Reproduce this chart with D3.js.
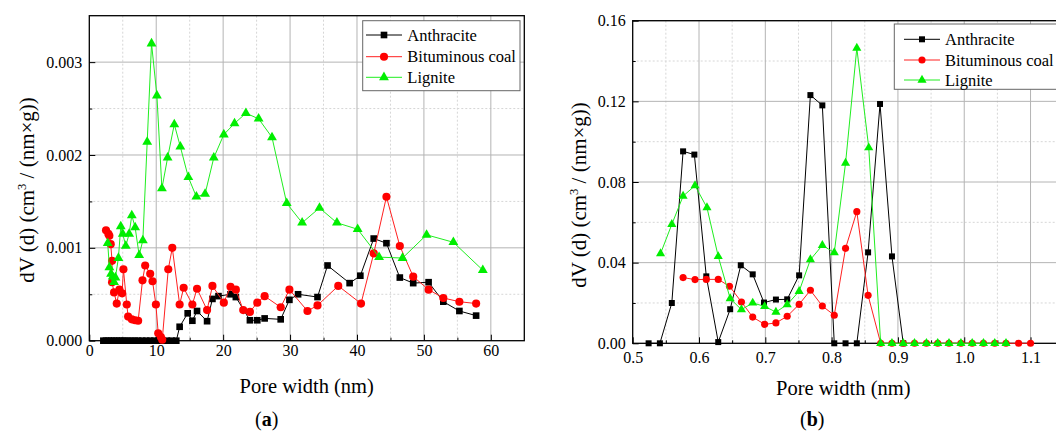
<!DOCTYPE html>
<meta charset="utf-8">
<script src="https://d3js.org/d3.v7.min.js"></script>
<style>
  body { margin: 0; background: #fff; }
  svg text { font-family: "Liberation Serif", "Times New Roman", Times, "DejaVu Serif", serif !important; }
</style>
<div id="chart"></div>
<script>

// ---- data, panel (a) : pore width 0-60 nm ----
var aAnthX = [2.1, 2.5, 2.9, 3.3, 3.7, 4.1, 4.5, 4.9, 5.3, 5.8, 6.3, 6.8, 7.3, 7.9, 8.5, 9.1, 9.7, 10.3, 10.9, 11.6, 12.3, 13.0,
              13.5, 14.7, 15.4, 16.1, 17.6, 18.4, 19.3, 21.1, 21.9, 24.0, 25.1, 26.2, 28.6, 29.9, 31.2, 34.1, 35.6, 38.9,
              40.5, 42.5, 44.4, 46.4, 48.4, 50.7, 52.9, 55.3, 57.8];
var aAnthY = [0, 0, 0, 0, 0, 0, 0, 0, 0, 0, 0, 0, 0, 0, 0, 0, 0, 0, 0, 0, 0, 0,
              0.00015, 0.000295, 0.000215, 0.00032, 0.00021, 0.00045, 0.00048, 0.0005, 0.00047, 0.00022, 0.00022, 0.00024,
              0.00023, 0.00044, 0.0005, 0.00047, 0.00081, 0.00062, 0.0007, 0.0011, 0.00105, 0.00068, 0.00062, 0.00063,
              0.00042, 0.00032, 0.00027];

var aBitX = [2.5, 2.85, 3.0, 3.2, 3.4, 3.4, 3.7, 4.1, 4.5, 4.9, 5.1, 5.6, 5.8, 6.35, 6.85, 7.3, 7.95, 8.35, 9.1, 9.45, 9.95,
             10.3, 10.7, 10.9, 11.8, 12.4, 13.5, 14.1, 15.4, 16.1, 17.6, 18.4, 20.1, 21.1, 21.9, 23.0, 24.0, 25.1, 26.2,
             28.6, 29.9, 32.6, 34.1, 37.2, 40.6, 42.5, 44.4, 46.4, 48.4, 50.7, 52.9, 55.3, 57.8];
var aBitY = [0.00119, 0.00115, 0.00113, 0.00104, 0.00086, 0.00063, 0.00052, 0.0004, 0.00055, 0.00051, 0.00077, 0.00039,
             0.00026, 0.00023, 0.00022, 0.000215, 0.00065, 0.00081, 0.00072, 0.00064, 0.00039, 0.00008, 0.00004, 0.00001,
             0.00077, 0.001, 0.00039, 0.00057, 0.00039, 0.00056, 0.00033, 0.00059, 0.00041, 0.00058, 0.00055, 0.00033,
             0.00031, 0.00041, 0.00048, 0.00036, 0.00055, 0.00032, 0.00038, 0.00059, 0.0004, 0.00094, 0.00155, 0.00102,
             0.00069, 0.00055, 0.00046, 0.00042, 0.0004];

var aLigX = [2.75, 3.0, 3.25, 3.5, 3.7, 3.9, 4.35, 4.7, 5.0, 5.45, 5.95, 6.35, 6.85, 7.45, 8.0, 8.65, 9.3, 10.1, 10.85,
             11.7, 12.7, 13.6, 14.8, 16.0, 17.3, 18.6, 20.1, 21.7, 23.4, 25.3, 27.3, 29.5, 31.8, 34.4, 37.0, 40.1, 43.3,
             46.8, 50.4, 54.4, 58.8];
var aLigY = [0.00105, 0.00079, 0.00072, 0.00069, 0.00063, 0.00068, 0.00089, 0.00123, 0.00115, 0.00102, 0.00115, 0.00135,
             0.00122, 0.00092, 0.00108, 0.00214, 0.0032, 0.00264, 0.00164, 0.00197, 0.00233, 0.00209, 0.00176, 0.00155,
             0.00158, 0.00197, 0.00222, 0.00234, 0.00245, 0.00239, 0.00219, 0.00148, 0.00127, 0.00143, 0.00127, 0.0012,
             0.0009, 0.00089, 0.00114, 0.00106, 0.00076];

// ---- data, panel (b) : pore width 0.5-1.1 nm ----
var bAnthX = [0.524, 0.541, 0.559, 0.576, 0.593, 0.611, 0.629, 0.647, 0.663, 0.681, 0.698, 0.716, 0.733, 0.751, 0.768,
              0.786, 0.804, 0.821, 0.838, 0.855, 0.873, 0.891, 0.908];
var bAnthY = [0, 0, 0.02, 0.0952, 0.0936, 0.0332, 0.0006, 0.0169, 0.0387, 0.0342, 0.0202, 0.0217, 0.0218, 0.0337, 0.1231,
              0.118, 0, 0, 0, 0.0451, 0.1187, 0.0431, 0];

var bBitX = [0.576, 0.594, 0.611, 0.629, 0.646, 0.664, 0.681, 0.699, 0.716, 0.733, 0.751, 0.768, 0.786, 0.804, 0.821,
             0.838, 0.855, 0.874, 0.891, 0.908, 0.925, 0.943, 0.960, 0.977, 0.995, 1.012, 1.029, 1.046, 1.063, 1.082, 1.100];
var bBitY = [0.0326, 0.0316, 0.0317, 0.0317, 0.0283, 0.0205, 0.013, 0.0094, 0.0101, 0.0134, 0.0193, 0.0263, 0.0185,
             0.0139, 0.0471, 0.0653, 0.0238, 0, 0, 0, 0, 0, 0, 0, 0, 0, 0, 0, 0, 0, 0];

var bLigX = [0.542, 0.559, 0.576, 0.594, 0.612, 0.629, 0.647, 0.664, 0.681, 0.699, 0.716, 0.733, 0.751, 0.768, 0.786,
             0.804, 0.821, 0.838, 0.856, 0.874, 0.891, 0.908, 0.925, 0.943, 0.960, 0.977, 0.995, 1.012, 1.029, 1.046, 1.063];
var bLigY = [0.0445, 0.059, 0.073, 0.0782, 0.0673, 0.0431, 0.0222, 0.0167, 0.02, 0.0183, 0.0155, 0.0192, 0.0258, 0.0415,
             0.0486, 0.045, 0.0894, 0.1464, 0.097, 0, 0, 0, 0, 0, 0, 0, 0, 0, 0, 0, 0];

var seriesNames = ["Anthracite", "Bituminous coal", "Lignite"];
var aTicksX = [0, 10, 20, 30, 40, 50, 60];
var aTicksY = [0, 0.001, 0.002, 0.003];
var bTicksX = [0.5, 0.6, 0.7, 0.8, 0.9, 1.0, 1.1];
var bTicksY = [0, 0.04, 0.08, 0.12, 0.16];

var colors = ["#000000", "#ff0000", "#00ee00"];
var lineColors = ["#000000", "#ff2020", "#20ee20"];
var shapes = [d3.symbolSquare, d3.symbolCircle, d3.symbolTriangle];
var serif = "'Liberation Serif', 'Times New Roman', Times, 'DejaVu Serif', serif";

function zip(xs, ys) { return xs.map(function(x, i) { return {x: x, y: ys[i]}; }); }

var svg = d3.select("#chart").append("svg")
    .attr("width", 1056)
    .attr("height", 432)
    .attr("font-family", serif);

function drawPanel(p) {
  var x = d3.scaleLinear().domain(p.xDomain).range([p.left, p.right]);
  var y = d3.scaleLinear().domain(p.yDomain).range([p.bottom, p.top]);
  var g = svg.append("g");

  // minor grid (dotted) and major grid
  var xMinor = p.xTicks.slice(0, -1).map(function(t, i) { return (t + p.xTicks[i + 1]) / 2; });
  xMinor.push(p.xTicks[p.xTicks.length - 1] + (p.xTicks[1] - p.xTicks[0]) / 2);
  var yMinor = p.yTicks.slice(0, -1).map(function(t, i) { return (t + p.yTicks[i + 1]) / 2; });
  xMinor = xMinor.filter(function(t) { return t < p.xDomain[1]; });

  g.selectAll(".gx-minor").data(xMinor).enter().append("line")
    .attr("x1", function(d) { return x(d); }).attr("x2", function(d) { return x(d); })
    .attr("y1", p.top).attr("y2", p.bottom)
    .attr("stroke", "#d6d6d6").attr("stroke-dasharray", "2,2");
  g.selectAll(".gy-minor").data(yMinor).enter().append("line")
    .attr("y1", function(d) { return y(d); }).attr("y2", function(d) { return y(d); })
    .attr("x1", p.left).attr("x2", p.right)
    .attr("stroke", "#d6d6d6").attr("stroke-dasharray", "2,2");
  g.selectAll(".gx").data(p.xTicks.slice(1)).enter().append("line")
    .attr("x1", function(d) { return x(d); }).attr("x2", function(d) { return x(d); })
    .attr("y1", p.top).attr("y2", p.bottom)
    .attr("stroke", "#b4b4b4");
  g.selectAll(".gy").data(p.yTicks.slice(1)).enter().append("line")
    .attr("y1", function(d) { return y(d); }).attr("y2", function(d) { return y(d); })
    .attr("x1", p.left).attr("x2", p.right)
    .attr("stroke", "#b4b4b4");

  // axes, ticks pointing inward
  g.append("g").attr("transform", "translate(0," + p.bottom + ")")
    .call(d3.axisBottom(x).tickValues(p.xTicks).tickFormat(d3.format(p.xFmt)).tickSize(-6).tickPadding(p.xPad));
  g.append("g").attr("transform", "translate(0," + p.bottom + ")")
    .call(d3.axisBottom(x).tickValues(xMinor).tickFormat("").tickSize(-3));
  g.append("g").attr("transform", "translate(" + p.left + ",0)")
    .call(d3.axisLeft(y).tickValues(p.yTicks).tickFormat(d3.format(p.yFmt)).tickSize(-6).tickPadding(7));
  g.append("g").attr("transform", "translate(" + p.left + ",0)")
    .call(d3.axisLeft(y).tickValues(yMinor).tickFormat("").tickSize(-3));
  g.selectAll(".domain").remove();
  g.selectAll("g").attr("font-family", serif);
  g.selectAll(".tick line").attr("stroke", "#000");
  g.selectAll(".tick text").attr("font-size", 16).attr("fill", "#000");

  // frame
  g.append("rect")
    .attr("x", p.left).attr("y", p.top)
    .attr("width", p.right - p.left).attr("height", p.bottom - p.top)
    .attr("fill", "none").attr("stroke", "#000").attr("stroke-width", 1.3);

  // series
  p.series.forEach(function(s, i) {
    var pts = zip(s[0], s[1]);
    g.append("path").datum(pts)
      .attr("fill", "none").attr("stroke", lineColors[i]).attr("stroke-width", 1)
      .attr("d", d3.line().x(function(d) { return x(d.x); }).y(function(d) { return y(d.y); }));
    g.selectAll(".m" + i).data(pts).enter().append("path")
      .attr("transform", function(d) { return "translate(" + x(d.x) + "," + y(d.y) + ")"; })
      .attr("d", d3.symbol().type(shapes[i]).size(p.sizes[i]))
      .attr("fill", colors[i]);
  });

  // legend
  var lg = g.append("g");
  lg.append("rect")
    .attr("x", p.legend.x0).attr("y", p.legend.y0)
    .attr("width", p.legend.x1 - p.legend.x0).attr("height", p.legend.y1 - p.legend.y0)
    .attr("fill", "#fff").attr("stroke", "#666").attr("stroke-width", 1);
  seriesNames.forEach(function(name, i) {
    var ly = p.legend.rows[i];
    lg.append("line")
      .attr("x1", p.legend.lx0).attr("x2", p.legend.lx1)
      .attr("y1", ly).attr("y2", ly)
      .attr("stroke", lineColors[i]).attr("stroke-width", 1);
    lg.append("path")
      .attr("transform", "translate(" + (p.legend.lx0 + p.legend.lx1) / 2 + "," + ly + ")")
      .attr("d", d3.symbol().type(shapes[i]).size(p.sizes[i]))
      .attr("fill", colors[i]);
    lg.append("text")
      .attr("x", p.legend.tx).attr("y", ly + 5.5)
      .attr("font-size", 16.5)
      .text(name);
  });

  // x title
  g.append("text")
    .attr("x", p.xTitleX).attr("y", p.xTitleY)
    .attr("text-anchor", "middle")
    .attr("font-size", 20.5)
    .text("Pore width (nm)");

  // y title
  var yt = g.append("text")
    .attr("transform", "translate(" + p.yTitleX + "," + p.yTitleY + ") rotate(-90)")
    .attr("text-anchor", "middle")
    .attr("font-size", 21);
  yt.append("tspan").text("dV (d) (cm");
  yt.append("tspan").attr("dy", -8).attr("font-size", 12.5).text("3");
  yt.append("tspan").attr("dy", 8).text(" / (nm\u00d7g))");

  // panel letter
  var pl = g.append("text")
    .attr("x", p.tagX).attr("y", 426)
    .attr("text-anchor", "middle")
    .attr("font-size", 20);
  pl.append("tspan").text("(");
  pl.append("tspan").attr("font-weight", "bold").text(p.tag);
  pl.append("tspan").text(")");
}

drawPanel({
  left: 89.3, right: 524.3, top: 15.7, bottom: 340.7,
  xDomain: [0, 65], yDomain: [0, 0.0035],
  xTicks: aTicksX, yTicks: aTicksY, xFmt: "d", yFmt: ".3f", xPad: 4,
  series: [[aAnthX, aAnthY], [aBitX, aBitY], [aLigX, aLigY]],
  sizes: [44, 52, 42],
  legend: {x0: 362.7, x1: 520, y0: 20.7, y1: 90.7, rows: [35, 56.7, 77.3], lx0: 366, lx1: 402, tx: 407.3},
  xTitleX: 306.7, xTitleY: 393,
  yTitleX: 34, yTitleY: 190,
  tag: "a", tagX: 266.7
});

drawPanel({
  left: 632.7, right: 1063.7, top: 20.7, bottom: 343.3,
  xDomain: [0.5, 1.15], yDomain: [0, 0.16],
  xTicks: bTicksX, yTicks: bTicksY, xFmt: ".1f", yFmt: ".2f", xPad: 8,
  series: [[bAnthX, bAnthY], [bBitX, bBitY], [bLigX, bLigY]],
  sizes: [36, 40, 36],
  legend: {x0: 894.3, x1: 1070, y0: 24, y1: 89.3, rows: [39.3, 60, 80], lx0: 904, lx1: 940, tx: 945},
  xTitleX: 843.3, xTitleY: 395,
  yTitleX: 586, yTitleY: 195,
  tag: "b", tagX: 812.3
});

</script>
